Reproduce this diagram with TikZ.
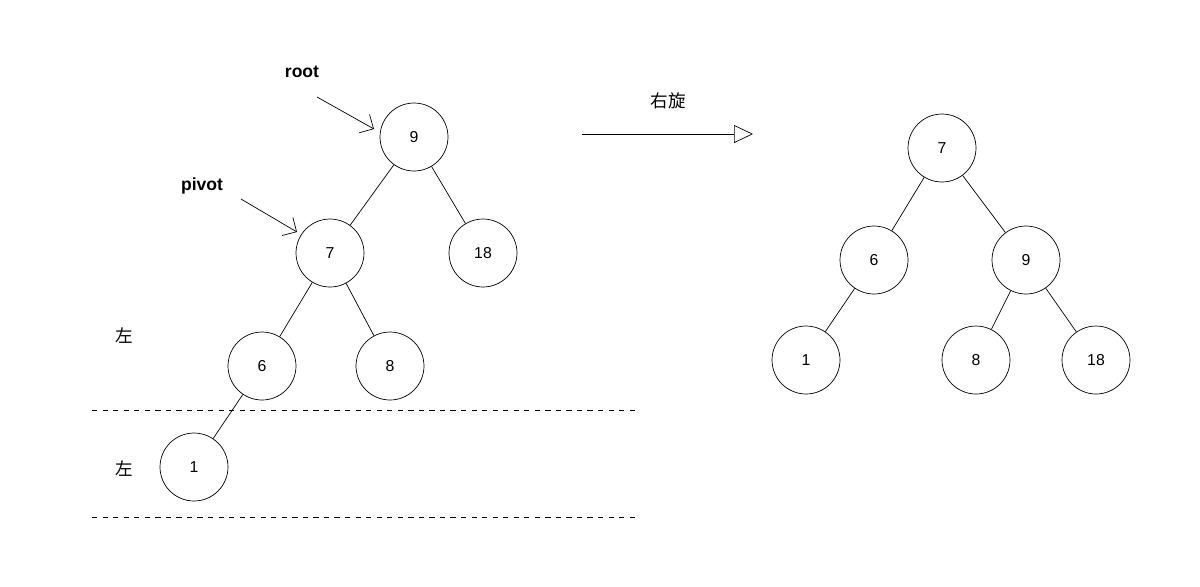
\documentclass[tikz,border=0pt]{standalone}
\usepackage{fontspec}
\setmainfont{Liberation Sans}
\newfontfamily\cjk{Noto Sans CJK SC}
\usetikzlibrary{arrows.meta}
\begin{document}
\begin{tikzpicture}[x=0.02cm,y=-0.02cm,
  tn/.style={draw,circle,minimum size=1.36cm,inner sep=0pt,font=\small},
  lbl/.style={font=\bfseries},
  dline/.style={dashed,line width=0.5pt}]
\useasboundingbox (0,0) rectangle (1200,586);
% left tree
\node[tn] (a9) at (414,137) {9};
\node[tn] (a7) at (330,253) {7};
\node[tn] (a18) at (483,253) {18};
\node[tn] (a6) at (262,366) {6};
\node[tn] (a8) at (390,366) {8};
\node[tn] (a1) at (194,467) {1};
\draw (a9)--(a7) (a9)--(a18) (a7)--(a6) (a7)--(a8) (a6)--(a1);
\node[lbl] (root) at (302,72) {root};
\node[lbl] (pivot) at (202,186) {pivot};
\coordinate (r0) at (317,97); \coordinate (r1) at (374,129);
\coordinate (p0) at (241,199); \coordinate (p1) at (297,232);
\draw[-{Straight Barb[length=6pt]}] (r0)--(r1);
\draw[-{Straight Barb[length=6pt]}] (p0)--(p1);
\node[font=\cjk] (l1) at (124,336) {左};
\node[font=\cjk] (l2) at (124,469) {左};
\coordinate (d1a) at (92,410); \coordinate (d1b) at (636,410);
\coordinate (d2a) at (92,517); \coordinate (d2b) at (636,517);
\draw[dline] (d1a)--(d1b);
\draw[dline] (d2a)--(d2b);
% arrow
\coordinate (s0) at (582,134); \coordinate (s1) at (753,134);
\draw[-{Triangle[open,length=0.38cm,width=0.36cm]}] (s0)--(s1);
\node[font=\cjk] (rot) at (668,101) {右旋};
% right tree
\node[tn] (b7) at (942,148) {7};
\node[tn] (b6) at (874,260) {6};
\node[tn] (b9) at (1026,260) {9};
\node[tn] (b1) at (806,360) {1};
\node[tn] (b8) at (976,360) {8};
\node[tn] (b18) at (1096,360) {18};
\draw (b7)--(b6) (b7)--(b9) (b6)--(b1) (b9)--(b8) (b9)--(b18);
\end{tikzpicture}
\end{document}
